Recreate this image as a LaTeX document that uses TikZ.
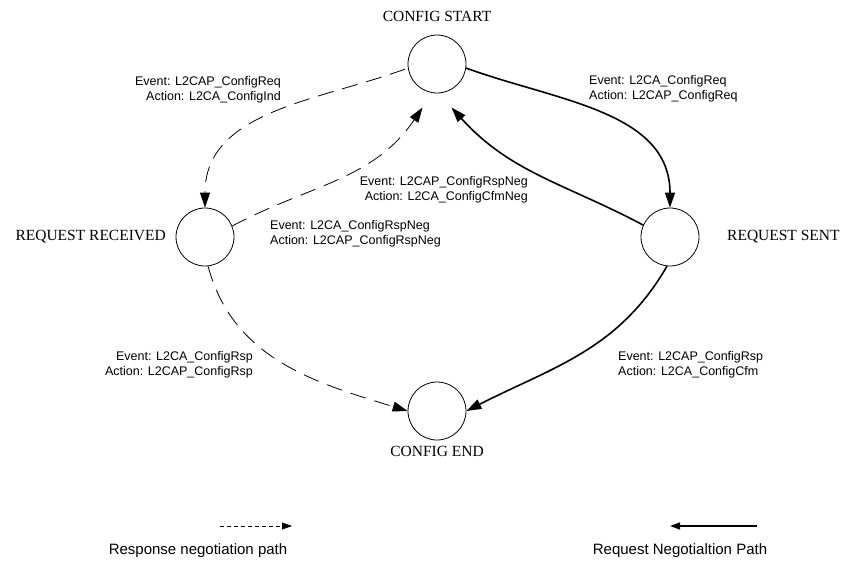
\documentclass[tikz,border=0pt]{standalone}
\usepackage{fontspec}
\setmainfont{Liberation Serif}
\setsansfont{Liberation Sans}
\usetikzlibrary{arrows.meta}

\tikzset{
  every state/.style={draw, circle, line width=0.8pt, minimum size=58pt, inner sep=0pt},
  state name/.style={font=\fontsize{15.5}{17}\selectfont, inner sep=0pt},
  event label/.style={font=\sffamily\fontsize{12.5}{14.5}\selectfont, inner sep=0pt},
  legend label/.style={font=\sffamily\fontsize{15}{17}\selectfont, inner sep=0pt},
  response path/.style={line width=0.8pt, dash pattern=on 16pt off 9pt, ->},
  request path/.style={line width=1.6pt, ->},
}

\begin{document}
\begin{tikzpicture}[x=1pt, y=1pt, >={Triangle[length=15pt, width=10pt]}]
  \useasboundingbox (0,0) rectangle (846,-565);

  % states
  \node [every state/.try] (start) at (437,-64) {};
  \node [every state/.try] (received) at (205,-237) {};
  \node [every state/.try] (sent) at (670,-237) {};
  \node [every state/.try] (end) at (437,-411) {};

  \node [state name] (start-name) at (437,-16) {CONFIG START};
  \node [state name, anchor=east] (received-name) at (166,-237) {REQUEST RECEIVED};
  \node [state name, anchor=west] (sent-name) at (727,-237) {REQUEST SENT};
  \node [state name] (end-name) at (437,-451) {CONFIG END};

  % arrows back into CONFIG START stop short of the circle
  \coordinate (start-from-left) at ([shift={(-14.5,-43.5)}]start.center);
  \coordinate (start-from-right) at ([shift={(14.5,-43.5)}]start.center);

  % response negotiation
  \draw [response path, shorten <=3pt] (start.188) to [out=200, in=90] (received.north);
  \draw [response path] (received.22) to [out=28, in=236] (start-from-left);
  \draw [response path] (received.-84) to [out=-75, in=163] (end.west);

  % request negotiation
  \draw [request path] (start.-8) to [out=-20, in=90] (sent.north);
  \draw [request path] (sent.156) to [out=152, in=-48] (start-from-right);
  \draw [request path] (sent.-96) to [out=-120, in=27] (end.east);

  % transition labels
  \node [event label, align=right, anchor=east] (conf-req) at (281,-90)
    {Event: L2CAP\_ConfigReq\\Action: L2CA\_ConfigInd};
  \node [event label, align=left, anchor=west] (conf-ind) at (589,-89)
    {Event: L2CA\_ConfigReq\\Action: L2CAP\_ConfigReq};
  \node [event label, align=right, anchor=east] (cfm-neg) at (528,-190)
    {Event: L2CAP\_ConfigRspNeg\\Action: L2CA\_ConfigCfmNeg};
  \node [event label, align=left, anchor=west] (rsp-neg) at (270,-234)
    {Event: L2CA\_ConfigRspNeg\\Action: L2CAP\_ConfigRspNeg};
  \node [event label, align=right, anchor=east] (conf-rsp) at (253,-365)
    {Event: L2CA\_ConfigRsp\\Action: L2CAP\_ConfigRsp};
  \node [event label, align=left, anchor=west] (conf-cfm) at (618,-365)
    {Event: L2CAP\_ConfigRsp\\Action: L2CA\_ConfigCfm};

  % legend
  \coordinate (resp-from) at (220,-526);
  \coordinate (resp-to) at (292,-526);
  \coordinate (req-from) at (757,-526);
  \coordinate (req-to) at (670,-526);
  \draw [line width=0.8pt, dash pattern=on 4pt off 3pt, -{Triangle[length=10pt, width=7pt]}] (resp-from) -- (resp-to);
  \draw [line width=1.6pt, -{Triangle[length=10pt, width=7pt]}] (req-from) -- (req-to);
  \node [legend label] (resp-text) at (198,-551) {Response negotiation path};
  \node [legend label] (req-text) at (680,-551) {Request Negotialtion Path};
\end{tikzpicture}
\end{document}
